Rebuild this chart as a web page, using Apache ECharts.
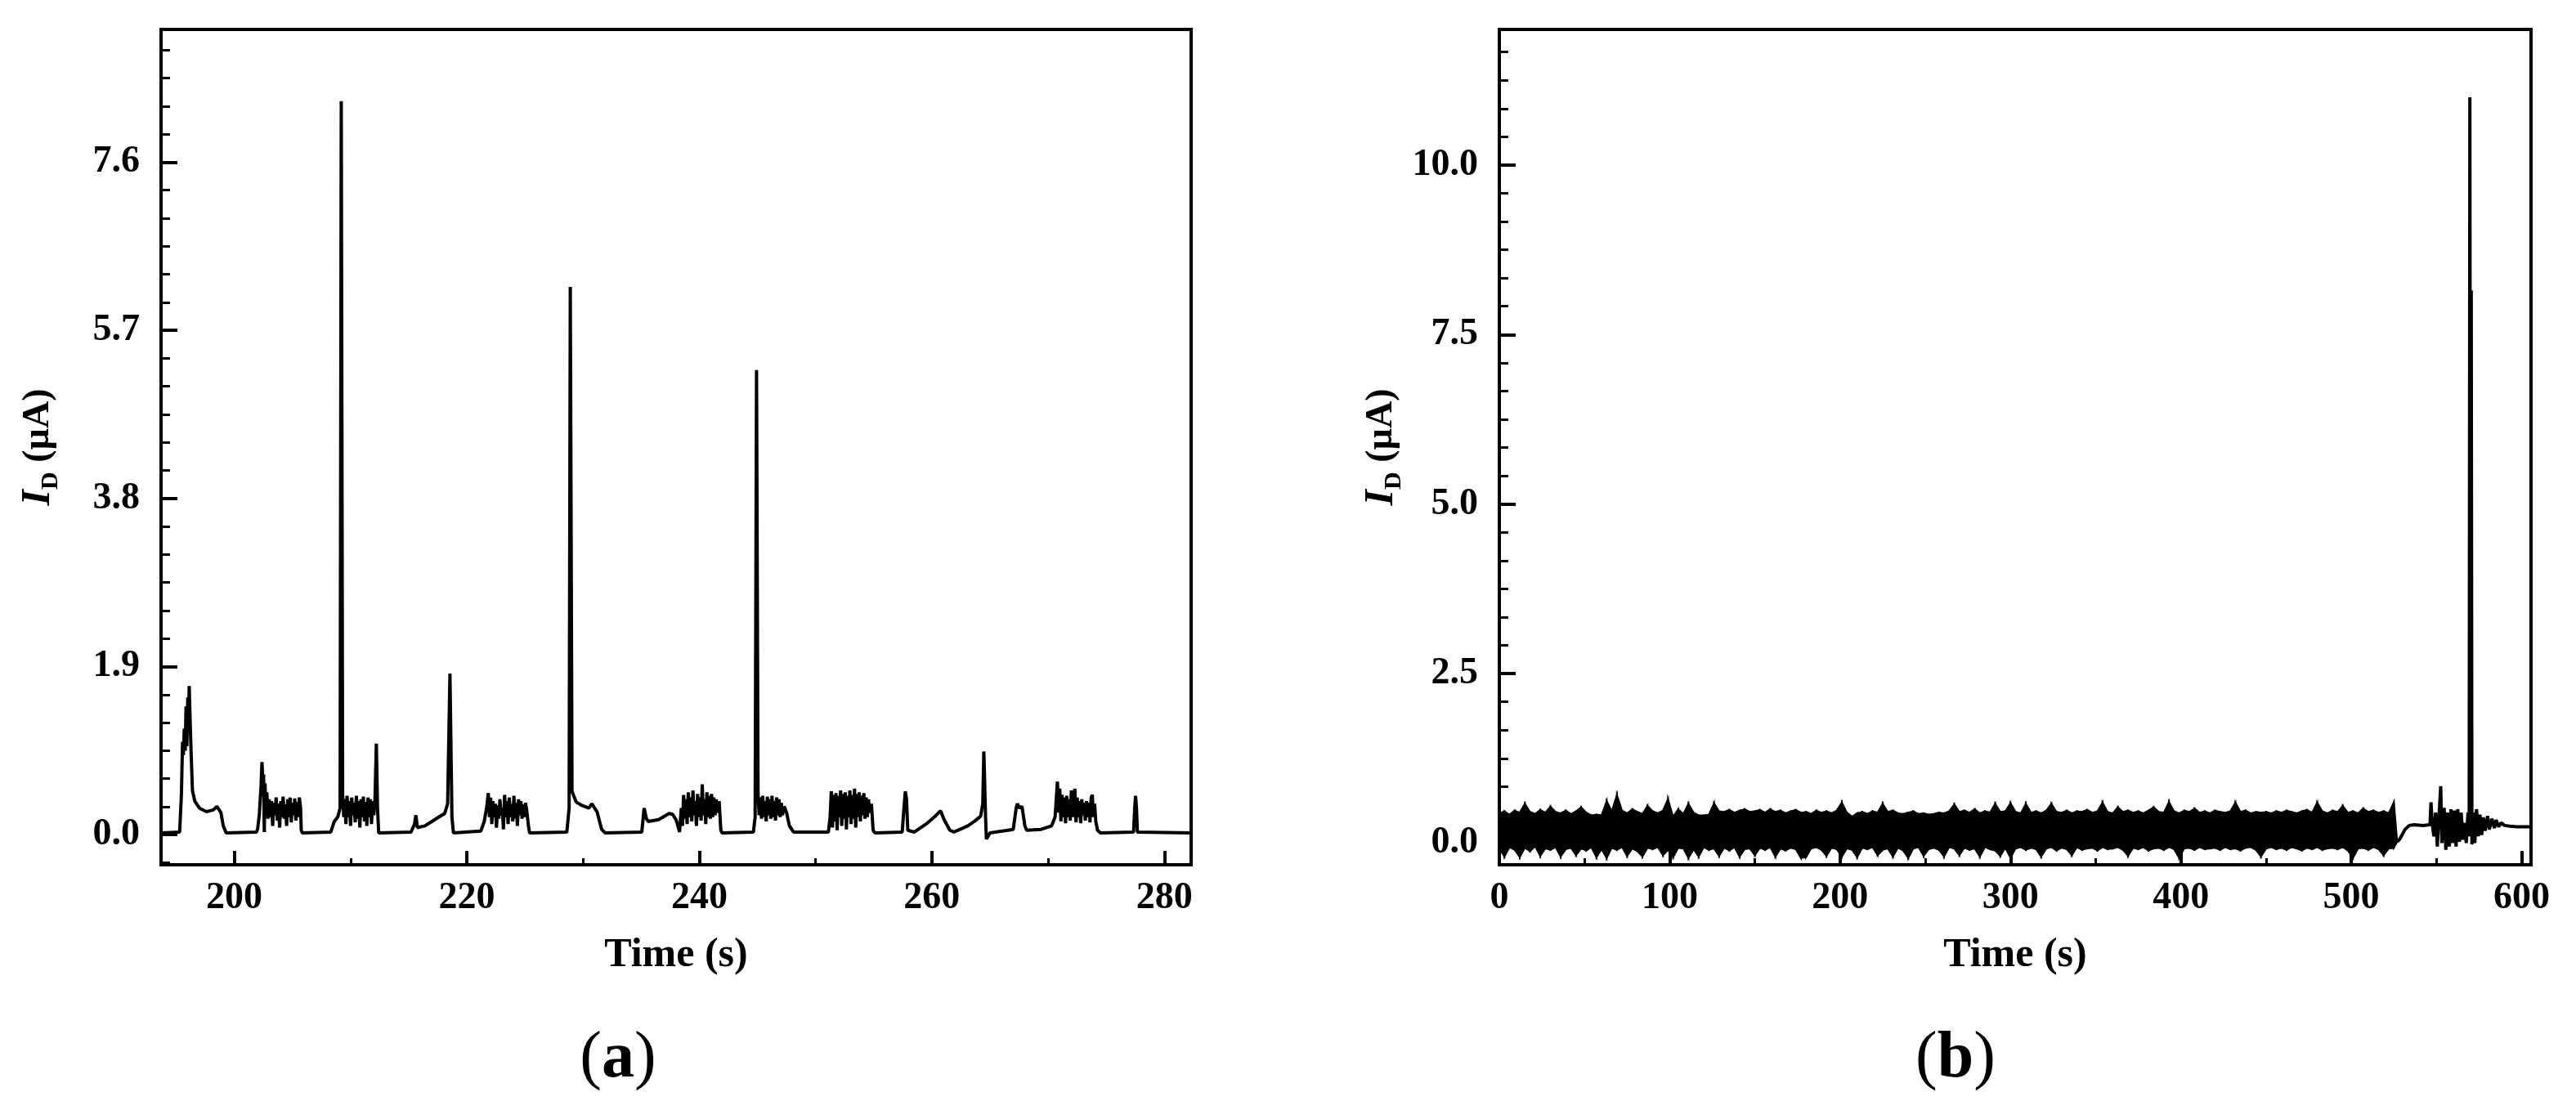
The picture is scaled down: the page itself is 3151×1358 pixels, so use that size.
<!DOCTYPE html>
<html>
<head>
<meta charset="utf-8">
<title>Drain current vs time</title>
<script src="https://cdn.jsdelivr.net/npm/echarts@6/dist/echarts.min.js"></script>
<style>
  html, body { margin: 0; padding: 0; background: #fff; }
  #chart { width: 3151px; height: 1358px; }
</style>
</head>
<body>
<div id="chart"></div>
<script>
// ---- panel (a): I_D trace, 193.7 - 282.3 s ----
const leadA = [[193.7, 0.02], [195.3, 0.03]];
const peak196 = [[195.45, 0.45], [195.55, 1.05], [195.62, 0.9], [195.7, 1.2], [195.78, 0.95], [195.85, 1.45], [195.92, 1.0],
  [196.0, 1.55], [196.06, 1.2], [196.12, 1.68], [196.2, 1.3], [196.28, 0.95], [196.4, 0.5], [196.6, 0.38], [197.0, 0.3],
  [197.6, 0.26], [198.2, 0.28], [198.5, 0.32], [198.85, 0.25], [199.05, 0.1], [199.3, 0.02], [201.9, 0.03]];
const burst204 = [[202.0, 0.06], [202.15, 0.22], [202.3, 0.55], [202.38, 0.82], [202.46, 0.6], [202.52, 0.68], [202.58, 0.03],
  [202.64, 0.58], [202.72, 0.3], [202.8, 0.48], [202.9, 0.18], [203.0, 0.4], [203.1, 0.2], [203.2, 0.38], [203.3, 0.1],
  [203.4, 0.36], [203.5, 0.22], [203.6, 0.42], [203.7, 0.16], [203.8, 0.35], [203.9, 0.08], [204.0, 0.38], [204.1, 0.2],
  [204.2, 0.43], [204.3, 0.18], [204.4, 0.34], [204.5, 0.1], [204.6, 0.4], [204.7, 0.2], [204.8, 0.42], [204.9, 0.14],
  [205.0, 0.36], [205.1, 0.22], [205.2, 0.41], [205.3, 0.16], [205.4, 0.37], [205.5, 0.2], [205.6, 0.42], [205.7, 0.3],
  [205.76, 0.05], [205.85, 0.02]];
const burst210 = [[208.3, 0.03], [208.6, 0.15], [208.9, 0.2], [209.1, 0.3], [209.2, 8.29], [209.32, 0.45], [209.42, 0.2],
  [209.5, 0.4], [209.6, 0.12], [209.7, 0.44], [209.8, 0.2], [209.9, 0.38], [210.0, 0.1], [210.1, 0.42], [210.2, 0.22],
  [210.3, 0.36], [210.4, 0.14], [210.5, 0.44], [210.6, 0.18], [210.7, 0.38], [210.8, 0.08], [210.9, 0.4], [211.0, 0.2],
  [211.1, 0.43], [211.2, 0.15], [211.3, 0.37], [211.4, 0.1], [211.5, 0.42], [211.6, 0.2], [211.7, 0.4], [211.8, 0.12],
  [211.9, 0.38], [212.0, 0.22], [212.1, 0.4], [212.22, 1.03], [212.32, 0.3], [212.42, 0.02]];
const peak218 = [[215.2, 0.03], [215.5, 0.12], [215.62, 0.22], [215.75, 0.08], [216.4, 0.1], [217.0, 0.15], [217.6, 0.2],
  [218.1, 0.24], [218.35, 0.35], [218.55, 1.82], [218.72, 0.2], [218.85, 0.02], [221.2, 0.04]];
const burst223 = [[221.5, 0.15], [221.7, 0.3], [221.85, 0.47], [221.95, 0.2], [222.05, 0.42], [222.15, 0.12], [222.25, 0.38],
  [222.35, 0.2], [222.45, 0.35], [222.55, 0.08], [222.65, 0.33], [222.75, 0.18], [222.85, 0.4], [222.95, 0.22], [223.05, 0.3],
  [223.15, 0.06], [223.25, 0.45], [223.35, 0.2], [223.45, 0.38], [223.55, 0.12], [223.65, 0.42], [223.75, 0.2], [223.85, 0.35],
  [223.95, 0.15], [224.05, 0.44], [224.15, 0.18], [224.25, 0.36], [224.35, 0.1], [224.45, 0.4], [224.55, 0.22], [224.65, 0.38],
  [224.75, 0.18], [224.85, 0.34], [224.95, 0.2], [225.05, 0.36], [225.15, 0.28], [225.3, 0.1], [225.4, 0.02]];
const peak229 = [[228.6, 0.03], [228.8, 0.3], [228.9, 6.19], [229.05, 0.49], [229.4, 0.37], [229.9, 0.33], [230.5, 0.3],
  [230.75, 0.35], [231.2, 0.26], [231.6, 0.06], [231.9, 0.02], [235.05, 0.03], [235.25, 0.3], [235.45, 0.18], [235.6, 0.15],
  [236.5, 0.17], [237.4, 0.24], [237.7, 0.23], [238.0, 0.17], [238.3, 0.03]];
const burst240 = [[238.45, 0.3], [238.55, 0.1], [238.65, 0.45], [238.75, 0.18], [238.85, 0.4], [238.95, 0.12], [239.05, 0.48],
  [239.15, 0.2], [239.25, 0.42], [239.35, 0.15], [239.45, 0.5], [239.55, 0.22], [239.65, 0.38], [239.75, 0.1], [239.85, 0.46],
  [239.95, 0.2], [240.05, 0.42], [240.15, 0.16], [240.25, 0.57], [240.35, 0.22], [240.45, 0.4], [240.55, 0.12], [240.65, 0.48],
  [240.75, 0.2], [240.85, 0.44], [240.95, 0.18], [241.05, 0.46], [241.15, 0.2], [241.25, 0.42], [241.35, 0.22], [241.45, 0.4],
  [241.55, 0.25], [241.7, 0.38], [241.85, 0.05], [241.95, 0.02]];
const burst246 = [[244.65, 0.03], [244.8, 0.2], [244.92, 5.25], [245.05, 0.46], [245.15, 0.22], [245.25, 0.42], [245.35, 0.18],
  [245.45, 0.44], [245.55, 0.2], [245.65, 0.38], [245.75, 0.15], [245.85, 0.43], [245.95, 0.22], [246.05, 0.4], [246.15, 0.18],
  [246.25, 0.44], [246.35, 0.2], [246.45, 0.38], [246.55, 0.16], [246.65, 0.42], [246.75, 0.22], [246.85, 0.4], [246.95, 0.2],
  [247.05, 0.36], [247.15, 0.22], [247.3, 0.32], [247.5, 0.25], [247.75, 0.1], [248.1, 0.03]];
const burst253 = [[251.1, 0.03], [251.25, 0.2], [251.35, 0.49], [251.45, 0.08], [251.55, 0.45], [251.65, 0.15], [251.75, 0.47],
  [251.85, 0.05], [251.95, 0.44], [252.05, 0.2], [252.15, 0.5], [252.25, 0.1], [252.35, 0.46], [252.45, 0.18], [252.55, 0.48],
  [252.65, 0.06], [252.75, 0.44], [252.85, 0.2], [252.95, 0.5], [253.05, 0.12], [253.15, 0.45], [253.25, 0.18], [253.35, 0.52],
  [253.45, 0.08], [253.55, 0.46], [253.65, 0.2], [253.75, 0.48], [253.85, 0.15], [253.95, 0.44], [254.05, 0.22], [254.15, 0.47],
  [254.25, 0.18], [254.35, 0.42], [254.45, 0.2], [254.55, 0.4], [254.65, 0.25], [254.8, 0.35], [254.95, 0.05], [255.1, 0.02]];
const bumps262 = [[257.45, 0.03], [257.6, 0.3], [257.72, 0.49], [257.82, 0.4], [257.93, 0.05], [258.5, 0.03], [259.5, 0.12],
  [260.3, 0.21], [260.75, 0.27], [261.05, 0.17], [261.55, 0.05], [261.9, 0.03], [263.1, 0.1], [263.75, 0.16], [264.2, 0.21],
  [264.38, 0.35], [264.47, 0.94], [264.62, 0.2], [264.69, -0.05], [265.0, 0.02], [267.0, 0.06], [267.25, 0.3], [267.35, 0.35],
  [267.55, 0.3], [267.75, 0.32], [268.0, 0.1], [268.15, 0.05], [269.4, 0.06], [270.3, 0.1], [270.6, 0.2]];
const burst272 = [[270.8, 0.6], [270.9, 0.25], [271.0, 0.52], [271.1, 0.15], [271.2, 0.45], [271.3, 0.2], [271.4, 0.42],
  [271.5, 0.13], [271.6, 0.44], [271.7, 0.2], [271.8, 0.4], [271.9, 0.16], [272.0, 0.5], [272.1, 0.2], [272.2, 0.38],
  [272.3, 0.52], [272.4, 0.14], [272.5, 0.42], [272.6, 0.2], [272.7, 0.38], [272.8, 0.13], [272.9, 0.4], [273.0, 0.22],
  [273.1, 0.36], [273.2, 0.16], [273.3, 0.38], [273.4, 0.2], [273.5, 0.36], [273.6, 0.14], [273.7, 0.42], [273.8, 0.45],
  [273.9, 0.2], [274.0, 0.35], [274.1, 0.15], [274.25, 0.05], [274.5, 0.02]];
const tailA = [[277.35, 0.03], [277.45, 0.3], [277.52, 0.44], [277.6, 0.3], [277.68, 0.03], [282.3, 0.02]];

// ---- panel (b): noisy band 0 - 527 s (edges sampled every 3 s), then the tail ----
const bandStepB = 3;
const bandUpperB = [
  0.44, 0.47, 0.42, 0.48, 0.45, 0.58, 0.46, 0.43, 0.49, 0.45,
  0.54, 0.46, 0.44, 0.48, 0.43, 0.47, 0.53, 0.45, 0.41, 0.42,
  0.41, 0.62, 0.47, 0.71, 0.48, 0.44, 0.5, 0.46, 0.43, 0.55,
  0.47, 0.44, 0.48, 0.65, 0.39, 0.5, 0.43, 0.58, 0.45, 0.41,
  0.41, 0.42, 0.59, 0.47, 0.46, 0.49, 0.45, 0.48, 0.5, 0.46,
  0.47, 0.49, 0.45, 0.5, 0.46, 0.48, 0.44, 0.47, 0.49, 0.45,
  0.46, 0.43, 0.48, 0.45, 0.47, 0.44, 0.48, 0.6, 0.45, 0.39,
  0.44, 0.46, 0.43, 0.47, 0.45, 0.58, 0.46, 0.48, 0.44, 0.43,
  0.45, 0.47, 0.43, 0.44, 0.42, 0.43, 0.45, 0.44, 0.47, 0.57,
  0.46, 0.48, 0.45, 0.5, 0.44, 0.47, 0.45, 0.58, 0.46, 0.47,
  0.59, 0.46, 0.44, 0.58, 0.45, 0.47, 0.44, 0.48, 0.58, 0.46,
  0.45, 0.48, 0.44, 0.47, 0.46, 0.49, 0.45, 0.47, 0.6, 0.46,
  0.44, 0.53, 0.46, 0.48, 0.45, 0.47, 0.44, 0.48, 0.53, 0.46,
  0.45, 0.61, 0.47, 0.44, 0.48, 0.46, 0.51, 0.45, 0.47, 0.44,
  0.48, 0.46, 0.45, 0.47, 0.6, 0.46, 0.48, 0.44, 0.46, 0.45,
  0.46, 0.44, 0.47, 0.45, 0.48, 0.46, 0.44, 0.47, 0.49, 0.45,
  0.6, 0.47, 0.44, 0.48, 0.46, 0.55, 0.45, 0.47, 0.44, 0.51,
  0.46, 0.48, 0.45, 0.47, 0.44, 0.61
];
const bandLowerB = [
  -0.08, -0.2, -0.06, -0.1, -0.21, -0.07, -0.12, -0.05, -0.19, -0.08,
  -0.1, -0.06, -0.2, -0.09, -0.07, -0.18, -0.08, -0.11, -0.06, -0.21,
  -0.09, -0.22, -0.07, -0.1, -0.06, -0.19, -0.08, -0.12, -0.2, -0.07,
  -0.09, -0.06, -0.18, -0.1, -0.21, -0.07, -0.08, -0.22, -0.09, -0.2,
  -0.06, -0.1, -0.08, -0.19, -0.07, -0.11, -0.06, -0.2, -0.09, -0.08,
  -0.18, -0.07, -0.1, -0.06, -0.2, -0.08, -0.11, -0.07, -0.09, -0.22,
  -0.21, -0.08, -0.06, -0.1, -0.19, -0.07, -0.09, -0.2, -0.08, -0.1,
  -0.21, -0.07, -0.09, -0.06, -0.18, -0.1, -0.08, -0.2, -0.07, -0.11,
  -0.22, -0.08, -0.06, -0.19, -0.09, -0.07, -0.1, -0.2, -0.06, -0.08,
  -0.18, -0.07, -0.1, -0.08, -0.2, -0.06, -0.09, -0.11, -0.19, -0.07,
  -0.22, -0.08, -0.06, -0.1, -0.07, -0.09, -0.2, -0.08, -0.06, -0.11,
  -0.07, -0.09, -0.18, -0.06, -0.1, -0.08, -0.07, -0.11, -0.06, -0.09,
  -0.08, -0.06, -0.1, -0.19, -0.07, -0.09, -0.06, -0.11, -0.08, -0.07,
  -0.1, -0.06, -0.09, -0.22, -0.08, -0.07, -0.1, -0.06, -0.09, -0.08,
  -0.07, -0.1, -0.06, -0.09, -0.08, -0.11, -0.07, -0.06, -0.1, -0.2,
  -0.08, -0.06, -0.09, -0.07, -0.1, -0.06, -0.08, -0.11, -0.07, -0.09,
  -0.06, -0.1, -0.08, -0.07, -0.09, -0.06, -0.11, -0.22, -0.08, -0.07,
  -0.1, -0.06, -0.09, -0.18, -0.08, -0.07
];
const bandEndB = [527, 0.02];
const tailB = [[527, 0.02], [528.5, 0.06], [531.5, 0.2], [534, 0.26], [537, 0.27], [542, 0.26], [546.2, 0.27], [546.8, 0.6],
  [547.5, 0.28], [548.5, 0.1], [549.5, 0.45], [550.5, -0.05], [551.5, 0.4], [552.5, 0.84], [553.2, 0.0], [554.5, 0.52],
  [555.5, -0.1], [556.5, 0.45], [557.5, -0.05], [558.5, 0.5], [559.5, 0.0], [560.5, 0.48], [561.5, -0.05], [562.5, 0.5],
  [563.5, 0.02], [564.5, 0.45], [565.5, 0.05], [566.5, 0.3], [567.5, 0.0], [568.5, 0.45], [569.2, 0.1], [569.6, 11.0],
  [570.0, 0.2], [570.4, 8.15], [570.8, -0.02], [571.5, 0.45], [572.5, 0.0], [573.5, 0.5], [574.5, 0.1], [575.5, 0.42],
  [576.5, 0.12], [577.5, 0.38], [578.5, 0.18], [580, 0.4], [581, 0.2], [582.5, 0.36], [584, 0.22], [585, 0.34],
  [586.5, 0.24], [588, 0.3], [590, 0.26], [593, 0.25], [597, 0.24], [601, 0.24], [605, 0.24]];

// ---- ticks ----
const xTicksA = [200, 220, 240, 260, 280];
const xMinorA = [200, 210, 220, 230, 240, 250, 260, 270, 280];
const yTicksA = [0, 1.9, 3.8, 5.7, 7.6];
const xTicksB = [0, 100, 200, 300, 400, 500, 600];
const xMinorB = [0, 50, 100, 150, 200, 250, 300, 350, 400, 450, 500, 550, 600];
const yTicksB = [0, 2.5, 5.0, 7.5, 10.0];

const traceA = [].concat(leadA, peak196, burst204, burst210, peak218, burst223, peak229,
  burst240, burst246, burst253, bumps262, burst272, tailA);

// 6 minor steps between major y ticks
function minorTicks(step, min, max) {
  const out = [];
  const d = step / 6;
  for (let k = Math.ceil(min / d); k * d <= max; k++) out.push(+(k * d).toFixed(4));
  return out;
}

// band rows: [time, lower, upper]
const bandB = bandLowerB.map(function (lo, i) { return [i * bandStepB, lo, bandUpperB[i]]; });
bandB.push([bandEndB[0], bandEndB[1], bandEndB[1]]);

const FONT = "'Liberation Serif', 'Times New Roman', serif";
const ink = "#000";

function majorX(gridIndex, min, max, ticks) {
  return {
    type: "value", gridIndex: gridIndex, position: "bottom", min: min, max: max,
    name: "Time (s)", nameLocation: "middle", nameGap: 86,
    nameTextStyle: { fontFamily: FONT, fontSize: 50, fontWeight: "bold", color: ink },
    axisLine: { show: true, onZero: false, lineStyle: { color: ink, width: 4 } },
    axisTick: { show: true, inside: true, length: 17, customValues: ticks, lineStyle: { color: ink, width: 4 } },
    axisLabel: { show: true, margin: 18, customValues: ticks, fontFamily: FONT, fontSize: 46, fontWeight: "bold", color: ink },
    splitLine: { show: false }
  };
}
function minorX(gridIndex, min, max, ticks) {
  return {
    type: "value", gridIndex: gridIndex, position: "bottom", min: min, max: max,
    axisLine: { show: false, onZero: false },
    axisTick: { show: true, inside: true, length: 8, customValues: ticks, lineStyle: { color: ink, width: 3 } },
    axisLabel: { show: false }, splitLine: { show: false }
  };
}
function majorY(gridIndex, min, max, ticks, gap) {
  return {
    type: "value", gridIndex: gridIndex, position: "left", min: min, max: max,
    name: "{i|I}{d|D} (µA)", nameLocation: "middle", nameGap: gap,
    nameTextStyle: {
      fontFamily: FONT, fontSize: 46, fontWeight: "bold", color: ink,
      rich: {
        i: { fontFamily: FONT, fontSize: 50, fontWeight: "bold", fontStyle: "italic", color: ink },
        d: { fontFamily: FONT, fontSize: 30, fontWeight: "bold", color: ink, verticalAlign: "bottom", padding: [30, 0, 0, 0] }
      }
    },
    axisLine: { show: true, onZero: false, lineStyle: { color: ink, width: 4 } },
    axisTick: { show: true, inside: true, length: 20, customValues: ticks, lineStyle: { color: ink, width: 4 } },
    axisLabel: {
      show: true, margin: 26, customValues: ticks, fontFamily: FONT, fontSize: 46, fontWeight: "bold", color: ink,
      formatter: function (v) { return v.toFixed(1); }
    },
    splitLine: { show: false }
  };
}
function minorY(gridIndex, min, max, ticks) {
  return {
    type: "value", gridIndex: gridIndex, position: "left", min: min, max: max,
    axisLine: { show: false, onZero: false },
    axisTick: { show: true, inside: true, length: 11, customValues: ticks, lineStyle: { color: ink, width: 3 } },
    axisLabel: { show: false }, splitLine: { show: false }
  };
}

// one filled strip between consecutive band rows
function renderBand(params, api) {
  const i = params.dataIndex;
  if (i >= bandB.length - 1) return null;
  const a = bandB[i], b = bandB[i + 1];
  const pts = [
    api.coord([a[0], a[2]]), api.coord([b[0], b[2]]),
    api.coord([b[0], b[1]]), api.coord([a[0], a[1]])
  ];
  return {
    type: "polygon",
    shape: { points: pts },
    style: { fill: ink, stroke: ink, lineWidth: 2 }
  };
}

const chart = echarts.init(document.getElementById("chart"));
chart.setOption({
  animation: false,
  backgroundColor: "#fff",
  grid: [
    { left: 197, top: 36, width: 1260, height: 1022, show: true, borderColor: ink, borderWidth: 4, outerBoundsMode: "none" },
    { left: 1834, top: 36, width: 1262, height: 1022, show: true, borderColor: ink, borderWidth: 4, outerBoundsMode: "none" }
  ],
  xAxis: [
    majorX(0, 193.7, 282.3, xTicksA),
    minorX(0, 193.7, 282.3, xMinorA),
    majorX(1, 0, 605.5, xTicksB),
    minorX(1, 0, 605.5, xMinorB)
  ],
  yAxis: [
    majorY(0, -0.34, 9.1, yTicksA, 120),
    minorY(0, -0.34, 9.1, minorTicks(1.9, -0.34, 9.1)),
    majorY(1, -0.32, 12.0, yTicksB, 114),
    minorY(1, -0.32, 12.0, minorTicks(2.5, -0.32, 12.0))
  ],
  graphic: [
    { type: "text", x: 756, y: 1296, style: { text: "{p|(}{b|a}{p|)}", align: "center", verticalAlign: "middle",
      rich: { p: { fontFamily: FONT, fontSize: 80, fill: ink }, b: { fontFamily: FONT, fontSize: 80, fontWeight: "bold", fill: ink } } } },
    { type: "text", x: 2392, y: 1296, style: { text: "{p|(}{b|b}{p|)}", align: "center", verticalAlign: "middle",
      rich: { p: { fontFamily: FONT, fontSize: 80, fill: ink }, b: { fontFamily: FONT, fontSize: 80, fontWeight: "bold", fill: ink } } } }
  ],
  series: [
    {
      name: "ID (a)", type: "line", xAxisIndex: 0, yAxisIndex: 0, data: traceA,
      symbol: "none", lineStyle: { color: ink, width: 4 }, silent: true
    },
    {
      name: "ID (b) band", type: "custom", xAxisIndex: 2, yAxisIndex: 2, data: bandB,
      encode: { x: 0, y: [1, 2] }, renderItem: renderBand, clip: true, silent: true
    },
    {
      name: "ID (b) tail", type: "line", xAxisIndex: 2, yAxisIndex: 2, data: tailB,
      symbol: "none", lineStyle: { color: ink, width: 4 }, silent: true
    }
  ]
});
</script>
</body>
</html>
